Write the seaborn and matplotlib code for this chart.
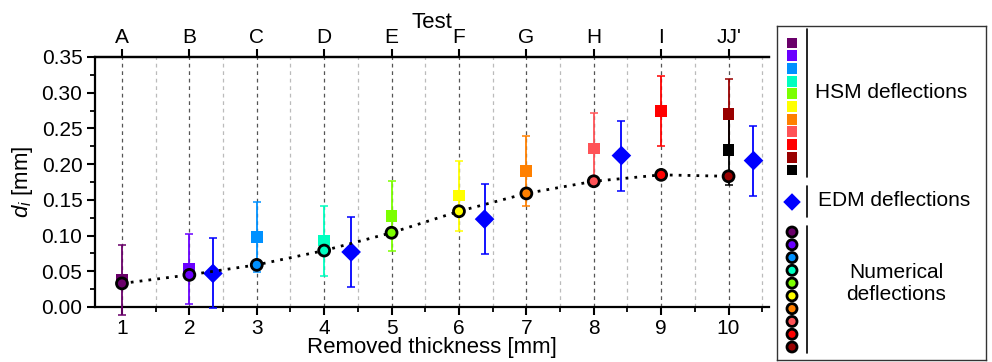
import numpy as np
import pandas as pd
import matplotlib
matplotlib.use("Agg")
import matplotlib.pyplot as plt
import seaborn as sns

# ---------------- data ----------------
thickness = [1, 2, 3, 4, 5, 6, 7, 8, 9, 10]
tests = ["A", "B", "C", "D", "E", "F", "G", "H", "I", "JJ'"]
colors = ["#6a006a", "#6a00ff", "#0091ff", "#00ffc0", "#7cff00",
          "#ffff00", "#ff8000", "#ff5357", "#ff0000", "#990000"]

hsm_x = [1, 2, 3, 4, 5, 6, 7, 8, 9, 10, 10]
hsm_y = [0.038, 0.053, 0.098, 0.093, 0.127, 0.156, 0.190, 0.222, 0.274, 0.270, 0.220]
hsm_err = [0.049, 0.049, 0.049, 0.049, 0.049, 0.049, 0.049, 0.049, 0.049, 0.049, 0.049]
hsm_colors = colors + ["#000000"]

edm_x = [2.35, 4.4, 6.38, 8.41, 10.37]
edm_y = [0.047, 0.077, 0.123, 0.212, 0.205]
edm_err = [0.049, 0.049, 0.049, 0.049, 0.049]

num_x = thickness
num_y = [0.033, 0.045, 0.059, 0.079, 0.104, 0.134, 0.159, 0.176, 0.185, 0.183]

# ---------------- style ----------------
sns.set_theme(style="white")
plt.rcParams["font.family"] = ["Liberation Sans", "DejaVu Sans"]
plt.rcParams["mathtext.fontset"] = "custom"
plt.rcParams["mathtext.it"] = "Liberation Sans:italic"
plt.rcParams["mathtext.rm"] = "Liberation Sans"

FS_TICK = 15
FS_LAB = 16
FS_LEG = 15

W, H = 992, 362
fig = plt.figure(figsize=(W / 100, H / 100), dpi=100)
ax = fig.add_axes([95 / W, 1 - 307 / H, (769 - 95) / W, (307 - 57) / H])

# grid lines
for v in thickness:
    ax.axvline(v, color="#555555", lw=0.9, ls=(0, (3, 3)), zorder=0)
for v in np.arange(1.5, 11, 1.0):
    ax.axvline(v, color="#bbbbbb", lw=0.9, ls=(0, (3, 3)), zorder=0)

# HSM squares with error bars
for x, y, e, c in zip(hsm_x, hsm_y, hsm_err, hsm_colors):
    ax.errorbar(x, y, yerr=e, fmt="none", ecolor=c, elinewidth=1.3,
                capsize=3, capthick=1.1, zorder=3, clip_on=False)
df_hsm = pd.DataFrame({"x": hsm_x, "y": hsm_y, "c": [str(i) for i in range(len(hsm_x))]})
sns.scatterplot(data=df_hsm, x="x", y="y", hue="c", palette=hsm_colors, marker="s",
                s=72, edgecolor="none", legend=False, ax=ax, zorder=4, clip_on=False)

# EDM diamonds
ax.errorbar(edm_x, edm_y, yerr=edm_err, fmt="none", ecolor="#0000ff", elinewidth=1.3,
            capsize=3, capthick=1.1, zorder=3, clip_on=False)
df_edm = pd.DataFrame({"x": edm_x, "y": edm_y})
sns.scatterplot(data=df_edm, x="x", y="y", marker="D", s=100, color="#0000ff",
                edgecolor="none", legend=False, ax=ax, zorder=4)

# numerical
df_num = pd.DataFrame({"x": num_x, "y": num_y, "c": [str(i) for i in range(len(num_x))]})
sns.lineplot(data=df_num, x="x", y="y", color="black", lw=2, ls=(0, (1, 2.2)),
             ax=ax, zorder=5)
sns.scatterplot(data=df_num, x="x", y="y", hue="c", palette=colors, marker="o",
                s=62, edgecolor="black", linewidth=2.0, legend=False, ax=ax, zorder=6)

# axes
ax.set_xlim(0.6, 10.6)
ax.set_ylim(0, 0.35)
ax.set_xticks(thickness)
ax.set_xticks(np.arange(1.5, 11, 1.0), minor=True)
ax.set_yticks(np.arange(0, 0.351, 0.05))
ax.set_yticks(np.arange(0.025, 0.35, 0.05), minor=True)
ax.set_yticklabels([f"{v:.2f}" for v in np.arange(0, 0.351, 0.05)])
ax.tick_params(axis="both", which="major", direction="out", length=6, width=1.5,
               labelsize=FS_TICK, color="black", labelcolor="black", bottom=True, left=True)
ax.tick_params(axis="both", which="minor", direction="out", length=3.5, width=1.3,
               color="black", bottom=True, left=True)
ax.tick_params(axis="x", pad=3)
ax.tick_params(axis="y", pad=3)
ax.set_xlabel("Removed thickness [mm]", fontsize=FS_LAB, color="black", labelpad=-1)
ax.set_ylabel(r"$d_i$ [mm]", fontsize=FS_LAB, color="black", labelpad=5)
for s in ["left", "bottom", "top"]:
    ax.spines[s].set_linewidth(1.6)
    ax.spines[s].set_color("black")
ax.spines["right"].set_visible(False)

top = ax.twiny()
top.set_xlim(ax.get_xlim())
top.set_xticks(thickness)
top.set_xticklabels(tests)
top.tick_params(axis="x", direction="out", length=6, width=1.5, labelsize=FS_TICK,
                top=True, pad=1, color="black", labelcolor="black")
top.set_xlabel("Test", fontsize=FS_LAB, color="black", labelpad=0)
for s in top.spines.values():
    s.set_visible(False)
top.spines["top"].set_visible(True)
top.spines["top"].set_linewidth(1.6)
top.spines["top"].set_color("black")

# ---------------- legend box ----------------
lx0, lx1, ly0, ly1 = 777, 986, 26, 360
lg = fig.add_axes([lx0 / W, 1 - ly1 / H, (lx1 - lx0) / W, (ly1 - ly0) / H])
lg.set_xlim(lx0, lx1)
lg.set_ylim(ly1, ly0)
lg.set_xticks([])
lg.set_yticks([])
for s in lg.spines.values():
    s.set_color("#333333")
    s.set_linewidth(1.0)
lg.set_facecolor("white")

mx = 792
sq_y = np.linspace(43, 170, len(hsm_colors))
lg.scatter([mx] * len(sq_y), sq_y, marker="s", s=62, c=hsm_colors, edgecolors="none")
lg.plot([807, 807], [29, 177], color="black", lw=1.2)
lg.text(891, 92, "HSM deflections", fontsize=FS_LEG, ha="center", va="center", color="black")

lg.scatter([mx], [202], marker="D", s=80, c="#0000ff", edgecolors="none")
lg.plot([807, 807], [186, 217], color="black", lw=1.2)
lg.text(894, 200, "EDM deflections", fontsize=FS_LEG, ha="center", va="center", color="black")

ci_y = np.linspace(232, 347, len(colors))
lg.scatter([mx] * len(ci_y), ci_y, marker="o", s=52, c=colors, edgecolors="black", linewidths=2)
lg.plot([807, 807], [226, 353], color="black", lw=1.2)
lg.text(896, 283, "Numerical\ndeflections", fontsize=FS_LEG, ha="center", va="center",
        color="black", linespacing=1.2)

fig.savefig("out.png", dpi=100)
